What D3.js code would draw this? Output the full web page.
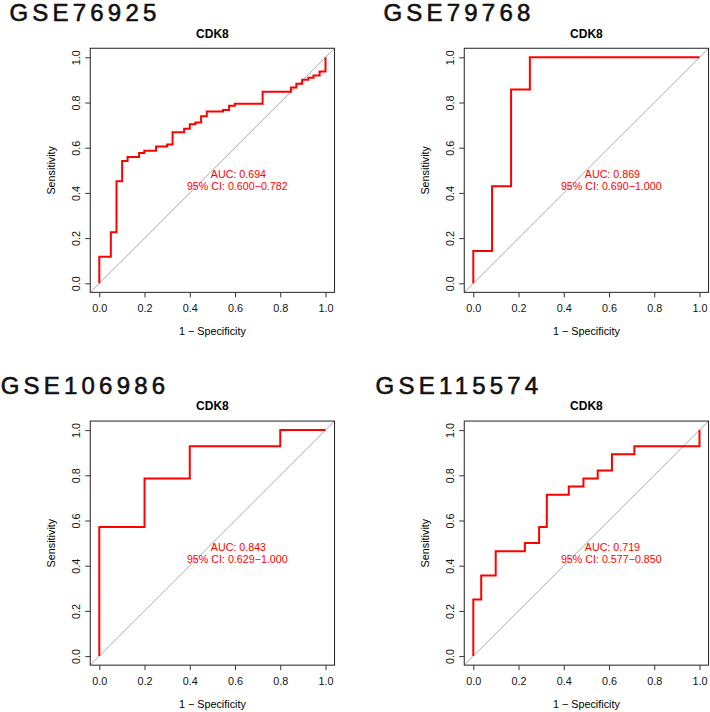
<!DOCTYPE html>
<html>
<head>
<meta charset="utf-8">
<script src="https://cdn.jsdelivr.net/npm/d3@7"></script>
<style>
  body { margin: 0; background: #fff; }
  svg { display: block; font-family: "Liberation Sans", Arial, sans-serif; }
  .axis text { font-size: 10.8px; fill: #111; }
  .axis line { stroke: #333; }
</style>
</head>
<body>
<svg id="chart"></svg>
<script>
// datasets, one per panel
var datasets = ["GSE76925", "GSE79768", "GSE106986", "GSE115574"];
var gene = "CDK8";

// ROC step points: 1 - specificity and sensitivity
var fpr76925 = [0, 0.051, 0.076, 0.101, 0.125, 0.176, 0.199, 0.251, 0.300, 0.324, 0.375, 0.400, 0.425, 0.450, 0.475, 0.547, 0.574, 0.599, 0.722, 0.847, 0.871, 0.897, 0.924, 0.947, 0.974, 1.0, 1.0];
var tpr76925 = [0, 0.118, 0.226, 0.451, 0.541, 0.559, 0.577, 0.587, 0.605, 0.614, 0.668, 0.684, 0.704, 0.712, 0.739, 0.760, 0.767, 0.786, 0.795, 0.848, 0.866, 0.883, 0.901, 0.910, 0.919, 0.937, 1.0];

var fpr79768 = [0, 0.083, 0.167, 0.25, 1.0];
var tpr79768 = [0, 0.143, 0.429, 0.857, 1.0];

var fpr106986 = [0, 0.2, 0.4, 0.8, 1.0];
var tpr106986 = [0, 0.571, 0.786, 0.929, 1.0];

var fpr115574 = [0, 0.035, 0.099, 0.228, 0.291, 0.325, 0.422, 0.487, 0.550, 0.613, 0.712, 1.0, 1.0];
var tpr115574 = [0, 0.25, 0.357, 0.464, 0.5, 0.571, 0.714, 0.75, 0.786, 0.821, 0.893, 0.929, 1.0];

var aucLabels = ["AUC: 0.694", "AUC: 0.869", "AUC: 0.843", "AUC: 0.719"];
var ciLabels = ["95% CI: 0.600\u22120.782", "95% CI: 0.690\u22121.000", "95% CI: 0.629\u22121.000", "95% CI: 0.577\u22120.850"];

var ticks = [0, 0.2, 0.4, 0.6, 0.8, 1.0];

var fprs = [fpr76925, fpr79768, fpr106986, fpr115574];
var tprs = [tpr76925, tpr79768, tpr106986, tpr115574];

var w = 710;
var h = 712;

var svg = d3.select("#chart")
  .attr("width", w)
  .attr("height", h);

// panel placement (top-left corner offsets)
var offsets = [[0, 0], [374, 0], [0, 372.8], [374, 372.8]];

datasets.forEach(function(name, i){
  var ox = offsets[i][0], oy = offsets[i][1];

  var xScale = d3.scaleLinear()
    .domain([0, 1])
    .range([99.3 + ox, 325.5 + ox]);
  var yScale = d3.scaleLinear()
    .domain([0, 1])
    .range([283.3 + oy, 57.3 + oy]);

  // plot region extends 4% beyond data range like R
  var x0 = xScale(-0.04), x1 = xScale(1.04);
  var y0 = yScale(-0.04), y1 = yScale(1.04);

  var g = svg.append("g");

  // dataset heading
  g.append("text")
    .attr("x", 85 + ox)
    .attr("y", 21 + oy)
    .attr("text-anchor", "middle")
    .style("font-size", "24px")
    .style("letter-spacing", "4.2px")
    .attr("fill", "#111")
    .attr("stroke", "#111")
    .attr("stroke-width", 0.6)
    .text(name);

  // gene title
  g.append("text")
    .attr("x", (x0 + x1) / 2)
    .attr("y", 37.5 + oy)
    .attr("text-anchor", "middle")
    .style("font-size", "12px")
    .style("font-weight", "bold")
    .text(gene);

  var clipId = "clip" + i;
  g.append("clipPath")
    .attr("id", clipId)
    .append("rect")
    .attr("x", x0).attr("y", y1)
    .attr("width", x1 - x0).attr("height", y0 - y1);

  // identity line
  g.append("line")
    .attr("clip-path", "url(#" + clipId + ")")
    .attr("x1", xScale(-0.04)).attr("y1", yScale(-0.04))
    .attr("x2", xScale(1.04)).attr("y2", yScale(1.04))
    .attr("stroke", "#a9a9a9")
    .attr("stroke-width", 1);

  var pts = fprs[i].map(function(f, j){ return [f, tprs[i][j]]; });
  var line = d3.line()
    .x(function(d){ return xScale(d[0]); })
    .y(function(d){ return yScale(d[1]); })
    .curve(d3.curveStepBefore);

  g.append("path")
    .datum(pts)
    .attr("d", line)
    .attr("fill", "none")
    .attr("stroke", "#ff0000")
    .attr("stroke-width", 2);

  // AUC text
  g.append("text")
    .attr("x", xScale(0.615))
    .attr("y", yScale(0.482))
    .attr("dy", "0.35em")
    .attr("text-anchor", "middle")
    .attr("fill", "#ff0000")
    .style("font-size", "10.7px")
    .text(aucLabels[i]);
  g.append("text")
    .attr("x", xScale(0.61))
    .attr("y", yScale(0.482) + 11.7)
    .attr("dy", "0.35em")
    .attr("text-anchor", "middle")
    .attr("fill", "#ff0000")
    .style("font-size", "10.7px")
    .text(ciLabels[i]);

  // box
  g.append("rect")
    .attr("x", x0).attr("y", y1)
    .attr("width", x1 - x0).attr("height", y0 - y1)
    .attr("fill", "none")
    .attr("stroke", "#222")
    .attr("stroke-width", 1);

  var xAxis = d3.axisBottom(xScale)
    .tickValues(ticks)
    .tickSize(5)
    .tickPadding(7)
    .tickFormat(d3.format(".1f"));
  g.append("g")
    .attr("class", "axis")
    .attr("transform", "translate(0," + y0 + ")")
    .call(xAxis)
    .call(function(a){ a.select(".domain").remove(); });

  var yAxis = d3.axisLeft(yScale)
    .tickValues(ticks)
    .tickSize(5)
    .tickFormat(d3.format(".1f"));
  var ya = g.append("g")
    .attr("class", "axis")
    .attr("transform", "translate(" + x0 + ",0)")
    .call(yAxis)
    .call(function(a){ a.select(".domain").remove(); });
  ya.selectAll(".tick text")
    .attr("x", 0)
    .attr("y", 0)
    .attr("dy", "0")
    .attr("text-anchor", "middle")
    .attr("transform", "translate(-10.5,0) rotate(-90)");

  g.append("text")
    .attr("x", (x0 + x1) / 2)
    .attr("y", y0 + 43)
    .attr("text-anchor", "middle")
    .style("font-size", "10.8px")
    .text("1 \u2212 Specificity");

  g.append("text")
    .attr("transform", "translate(" + (x0 - 35) + "," + ((y0 + y1) / 2) + ") rotate(-90)")
    .attr("text-anchor", "middle")
    .style("font-size", "10.8px")
    .text("Sensitivity");
});
</script>
</body>
</html>
